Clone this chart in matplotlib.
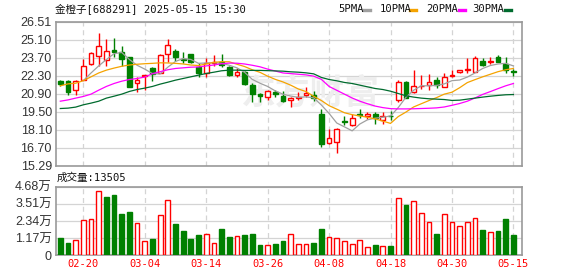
import numpy as np
import matplotlib.pyplot as plt
from matplotlib.lines import Line2D

plt.rcParams['font.family'] = ['Liberation Sans', 'Noto Sans CJK SC']

dates = ['02-17', '02-18', '02-19', '02-20', '02-21', '02-24', '02-25', '02-26', '02-27', '02-28',
         '03-03', '03-04', '03-05', '03-06', '03-07', '03-10', '03-11', '03-12', '03-13', '03-14',
         '03-17', '03-18', '03-19', '03-20', '03-21', '03-24', '03-25', '03-26', '03-27', '03-28',
         '03-31', '04-01', '04-02', '04-03', '04-07', '04-08', '04-09', '04-10', '04-11', '04-14',
         '04-15', '04-16', '04-17', '04-18', '04-21', '04-22', '04-23', '04-24', '04-25', '04-28',
         '04-29', '04-30', '05-06', '05-07', '05-08', '05-09', '05-12', '05-13', '05-14', '05-15']

opens = [21.91, 21.91, 21.21, 21.99, 23.21, 23.86, 23.52, 24.28, 24.15, 23.73,
         21.68, 22.30, 22.85, 22.51, 23.97, 24.20, 23.58, 23.94, 22.93, 22.46,
         23.24, 23.37, 22.95, 22.38, 22.59, 21.60, 20.88, 20.59, 20.98, 20.69,
         20.38, 20.54, 20.80, 20.75, 19.29, 17.06, 17.16, 18.72, 18.41, 19.34,
         19.16, 19.27, 18.82, 19.16, 20.43, 21.83, 20.98, 21.45, 21.60, 21.99,
         21.37, 22.30, 22.54, 22.74, 22.61, 23.42, 23.37, 23.78, 23.16, 22.64]
closes = [21.65, 21.03, 21.91, 23.08, 24.09, 24.64, 24.25, 24.17, 23.58, 21.42,
          21.94, 22.35, 22.41, 23.89, 24.67, 23.76, 23.50, 23.34, 22.46, 23.24,
          23.32, 23.11, 22.35, 22.61, 21.63, 20.90, 20.69, 21.09, 20.90, 20.33,
          20.54, 20.62, 20.95, 20.54, 16.93, 17.45, 18.15, 18.67, 19.03, 19.19,
          19.27, 19.01, 19.16, 19.11, 21.83, 20.56, 21.52, 21.52, 21.83, 21.57,
          22.20, 22.35, 22.72, 22.80, 23.63, 23.13, 23.42, 23.38, 22.72, 22.59]
highs = [21.94, 21.99, 21.94, 23.58, 24.17, 25.58, 25.11, 25.26, 24.59, 23.75,
         22.20, 22.38, 22.98, 23.97, 25.13, 24.35, 24.10, 23.99, 23.24, 23.63,
         23.89, 23.97, 23.03, 22.85, 22.67, 21.68, 20.95, 21.16, 21.21, 21.11,
         20.59, 21.03, 21.42, 21.09, 19.73, 18.12, 18.25, 19.16, 19.34, 19.71,
         19.45, 19.45, 19.42, 19.53, 21.96, 21.86, 22.77, 22.33, 22.41, 22.15,
         22.46, 22.77, 22.77, 23.65, 23.81, 23.65, 23.78, 23.89, 23.71, 22.82]
lows = [21.47, 20.77, 20.80, 21.95, 23.11, 23.03, 23.03, 23.71, 23.06, 21.40,
        21.03, 21.16, 21.89, 22.46, 23.37, 23.45, 23.29, 23.29, 22.20, 22.15,
        23.06, 22.98, 22.30, 22.20, 21.55, 20.25, 20.25, 20.38, 20.64, 20.22,
        19.86, 20.38, 20.59, 20.28, 16.77, 16.95, 16.30, 18.46, 18.36, 19.03,
        18.88, 18.56, 18.51, 18.82, 20.20, 20.54, 20.93, 21.24, 21.16, 21.29,
        21.37, 22.15, 22.51, 22.46, 22.56, 23.03, 23.21, 23.34, 22.51, 22.25]

# volume in units of 万
volumes = [1.17, 0.84, 1.07, 2.43, 2.50, 4.34, 3.95, 4.09, 2.79, 2.93,
           2.23, 1.00, 1.09, 2.73, 3.79, 2.11, 1.64, 1.09, 1.36, 1.48,
           0.86, 1.77, 1.23, 1.34, 1.36, 1.43, 0.68, 0.73, 0.75, 0.95,
           1.48, 0.80, 0.80, 0.82, 1.77, 1.27, 1.20, 1.00, 0.80, 1.07,
           0.59, 0.68, 0.66, 0.61, 3.93, 3.41, 3.66, 2.91, 2.29, 1.43,
           2.84, 2.29, 2.02, 2.29, 2.57, 1.70, 1.61, 1.64, 2.45, 1.35]
vol_up = [0, 0, 1, 1, 1, 1, 0, 0, 0, 0,
          1, 1, 0, 1, 1, 0, 0, 0, 0, 1,
          1, 0, 0, 1, 0, 0, 0, 1, 0, 0,
          1, 1, 1, 0, 0, 1, 1, 1, 1, 1,
          1, 0, 1, 0, 1, 0, 1, 1, 1, 0,
          1, 1, 1, 1, 1, 0, 1, 0, 0, 0]

nan = np.nan
ma5 = [nan, nan, nan, 21.90, 22.50, 23.05, 23.55, 24.00, 24.10, 23.55,
       23.10, 22.80, 22.45, 22.42, 22.95, 23.40, 23.62, 23.55, 23.25, 23.28,
       23.30, 23.25, 23.10, 22.90, 22.55, 22.00, 21.70, 21.45, 21.10, 20.85,
       20.70, 20.60, 20.64, 20.56, 20.00, 19.35, 18.60, 18.30, 17.99, 18.52,
       18.85, 18.98, 19.05, 19.15, 19.80, 20.60, 21.15, 21.50, 21.50, 21.53,
       21.65, 21.90, 21.95, 22.18, 22.50, 22.85, 23.08, 23.20, 23.25, 23.05]
ma10 = [21.50, 21.65, 21.70, 21.90, 22.20, 22.50, 22.72, 22.88, 23.02, 23.12,
        23.18, 23.22, 23.25, 23.29, 23.28, 23.25, 23.20, 23.12, 23.08, 23.20,
        23.33, 23.38, 23.37, 23.18, 23.00, 22.75, 22.55, 22.25, 22.00, 21.80,
        21.55, 21.25, 21.05, 20.68, 20.35, 19.95, 19.68, 19.40, 19.25, 19.15,
        19.05, 18.92, 18.75, 18.57, 19.10, 19.45, 19.85, 20.10, 20.35, 20.58,
        20.85, 21.00, 21.35, 21.75, 21.98, 22.20, 22.40, 22.60, 22.75, 22.85]
ma20 = [20.30, 20.40, 20.54, 20.67, 20.85, 21.16, 21.45, 21.68, 21.86, 21.99,
        22.07, 22.18, 22.45, 22.60, 22.75, 22.85, 22.90, 22.95, 22.97, 23.05,
        23.12, 23.22, 23.27, 23.26, 23.20, 23.10, 22.98, 22.80, 22.65, 22.50,
        22.45, 22.40, 22.35, 22.25, 22.00, 21.45, 21.15, 20.85, 20.55, 20.30,
        20.10, 19.92, 19.80, 19.72, 19.70, 19.70, 19.71, 19.73, 19.75, 19.78,
        19.85, 19.98, 20.12, 20.30, 20.55, 20.83, 21.05, 21.28, 21.50, 21.68]
ma30 = [19.73, 19.76, 19.84, 20.02, 20.15, 20.30, 20.54, 20.69, 20.85, 21.06,
        21.21, 21.32, 21.45, 21.63, 21.78, 21.94, 22.07, 22.20, 22.33, 22.46,
        22.56, 22.67, 22.72, 22.72, 22.70, 22.70, 22.70, 22.68, 22.66, 22.64,
        22.59, 22.56, 22.51, 22.43, 22.15, 21.99, 21.89, 21.76, 21.68, 21.55,
        21.42, 21.29, 21.21, 21.08, 20.90, 20.72, 20.62, 20.54, 20.49, 20.46,
        20.43, 20.36, 20.38, 20.46, 20.54, 20.62, 20.69, 20.75, 20.80, 20.82]

price_ticks = ['15.29', '16.70', '18.10', '19.50', '20.90', '22.30', '23.70', '25.10', '26.51']
vol_ticks = ['0', '1.17万', '2.34万', '3.51万', '4.68万']
tick_idx = [3, 11, 19, 27, 35, 43, 51, 59]

RED = '#ff0000'
GREEN = '#008000'
GRID = '#d4d4d4'
BORDER = '#999999'
TXT = '#333333'

fig = plt.figure(figsize=(5.78, 2.76), dpi=100)
ax = fig.add_axes([56 / 578, 1 - 165.5 / 276, 466 / 578, 144 / 276])
axv = fig.add_axes([56 / 578, 1 - 255.3 / 276, 466 / 578, 68.8 / 276])

x = np.arange(len(dates))
o = np.array(opens)
c = np.array(closes)
up = c >= o
cols = [RED if u else GREEN for u in up]

# candles
ax.vlines(x, lows, highs, colors=cols, lw=1, zorder=2)
body_lo = np.minimum(o, c)
body_h = np.maximum(np.abs(c - o), 0.015)
ax.bar(x, body_h, bottom=body_lo, width=0.62,
       color=['white' if u else GREEN for u in up],
       edgecolor=cols, linewidth=1, zorder=3)

ax.plot(x, ma5, color='#a0a0a0', lw=0.9, zorder=4)
ax.plot(x, ma10, color='#f5a300', lw=0.9, zorder=4)
ax.plot(x, ma20, color='#ff00ff', lw=0.9, zorder=4)
ax.plot(x, ma30, color='#006b2e', lw=0.9, zorder=4)

ax.text(0.545, 0.50, '东方财富', transform=ax.transAxes, ha='center', va='center',
        fontsize=25, fontweight='bold', color='#eeeeee', zorder=1,
        family=['Noto Sans CJK SC'])

# volume
vcols = [RED if u else GREEN for u in vol_up]
axv.bar(x, volumes, width=0.62, color=['white' if u else GREEN for u in vol_up],
        edgecolor=vcols, linewidth=1, zorder=3)

for a in (ax, axv):
    a.set_xlim(-0.56, 60.12)
    a.set_xticks(tick_idx)
    a.tick_params(length=0, colors=TXT, labelsize=9, pad=3)
    a.grid(axis='y', color=GRID, lw=0.9, ls='-')
    a.grid(axis='x', color=GRID, lw=0.9, ls=(0, (4, 3)))
    a.set_axisbelow(True)
    for s in a.spines.values():
        s.set_color(BORDER)
        s.set_linewidth(1.2)

ax.set_ylim(15.29, 26.51)
ax.set_yticks(np.linspace(15.29, 26.51, 9))
ax.set_yticklabels(price_ticks)
ax.set_xticklabels([])

axv.set_ylim(0, 4.68)
axv.set_yticks([0, 1.17, 2.34, 3.51, 4.68])
axv.set_yticklabels(vol_ticks)
axv.set_xticklabels([dates[i] for i in tick_idx], color=RED,
                    family='DejaVu Sans Mono', fontsize=7.5)

mono = ['DejaVu Sans Mono', 'Noto Sans CJK SC']
fig.text(55 / 578, 1 - 9 / 276, '金橙子[688291] 2025-05-15 15:30', ha='left', va='center',
         fontsize=7.6, family=mono, color='#111111')
fig.text(57 / 578, 1 - 178 / 276, '成交量:13505', ha='left', va='center',
         fontsize=7.6, family=mono, color='#111111')

legend = [('5PMA', '#a0a0a0', 338, 364), ('10PMA', '#f5a300', 380, 410),
          ('20PMA', '#ff00ff', 426, 459), ('30PMA', '#006b2e', 472, 505)]
for lab, col, tx, mx in legend:
    fig.text(tx / 578, 1 - 9 / 276, lab, ha='left', va='center', fontsize=7.6,
             family='DejaVu Sans Mono', color='#111111')
    fig.add_artist(Line2D([mx / 578, (mx + 6) / 578], [1 - 9.5 / 276] * 2,
                          color=col, lw=2.4, transform=fig.transFigure))

fig.savefig('out.png', dpi=100)
